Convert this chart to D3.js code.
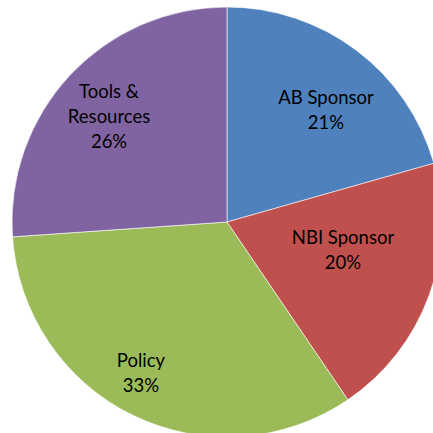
<!DOCTYPE html>
<html>
<head>
<meta charset="utf-8">
<script src="https://cdn.jsdelivr.net/npm/d3@7.9.0/dist/d3.min.js"></script>
<style>
  html, body { margin: 0; padding: 0; background: #fff; }
  svg { display: block; }
  .lbl { font-family: Lato, "Open Sans", sans-serif; font-size: 18.5px; fill: #000; }
</style>
</head>
<body>
<svg id="chart" width="433" height="433"></svg>
<script>
// Data (shares; labels show them rounded)
const categories = ["AB Sponsor", "NBI Sponsor", "Policy", "Tools & Resources"];
const labelLines = [["AB Sponsor"], ["NBI Sponsor"], ["Policy"], ["Tools &", "Resources"]];
const values = [20.6, 19.9, 33.4, 26.1];

// Layout
const W = 433, H = 433;
const cx = 227, cy = 222, R = 215;
const colors = ["#4F81BD", "#C0504D", "#9BBB59", "#8064A2"];
// Excel "best fit" puts labels at different depths / angles in each slice
const labelDepth = [0.695, 0.556, 0.812, 0.735];
const labelTurn = [4.4, -6.0, 3.6, -1.3]; // degrees off the mid-angle
const lineH = 25;

const svg = d3.select("#chart");
const g = svg.append("g").attr("transform", `translate(${cx},${cy})`);

const pie = d3.pie().sort(null).value((d) => d);
const arcs = pie(values);
const arc = d3.arc().innerRadius(0).outerRadius(R);

g.selectAll("path")
  .data(arcs)
  .join("path")
  .attr("d", arc)
  .attr("fill", (_, i) => colors[i])
  .attr("stroke", "#fff")
  .attr("stroke-width", 0.6);

const total = d3.sum(values);

const labels = g.selectAll("text")
  .data(arcs)
  .join("text")
  .attr("class", "lbl")
  .attr("text-anchor", "middle")
  .attr("transform", (d, i) => {
    const a = (d.startAngle + d.endAngle) / 2 + (labelTurn[i] * Math.PI) / 180;
    const r = R * labelDepth[i];
    return `translate(${Math.sin(a) * r},${-Math.cos(a) * r})`;
  });

labels.each(function (d, i) {
  const lines = labelLines[i].concat([Math.round((d.data / total) * 100) + "%"]);
  const t = d3.select(this);
  const y0 = -((lines.length - 1) * lineH) / 2 + 6;
  lines.forEach((s, k) => {
    t.append("tspan").attr("x", 0).attr("y", y0 + k * lineH).text(s);
  });
});
</script>
</body>
</html>
